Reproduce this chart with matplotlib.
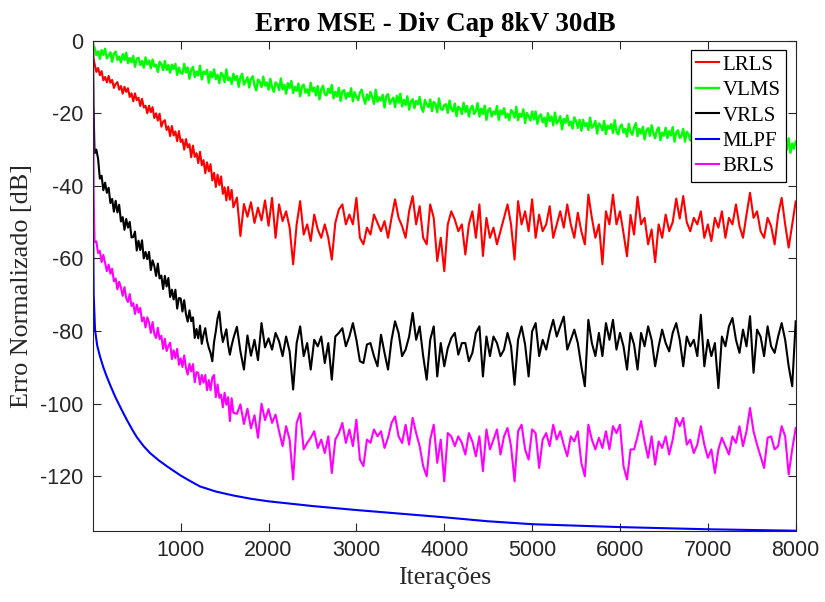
import matplotlib
matplotlib.use("Agg")
import matplotlib.pyplot as plt

plt.rcParams['font.family'] = ['Liberation Sans', 'DejaVu Sans']

# Iteration grids: fine steps during convergence, coarser afterwards
early_iters = [1, 8] + list(range(20, 1601, 20))
late_iters = list(range(1640, 8001, 40))
iters = early_iters + late_iters
vlms_iters = [1, 8] + list(range(20, 8001, 20))

# ---- LRLS normalised MSE [dB]
lrls_early = [0.0, -5.0,
              -6.4, -8.6, -7.5, -9.5, -8.4, -10.9, -10.0, -11.5, -9.7, -11.6,
              -10.8, -13.0, -11.9, -11.4, -13.5, -12.5, -14.6, -12.7, -14.1, -13.1,
              -15.5, -14.5, -16.7, -14.5, -16.4, -15.7, -18.0, -16.0, -18.4, -17.9,
              -20.0, -17.9, -19.7, -18.3, -21.3, -20.0, -22.0, -20.1, -23.7, -22.3,
              -21.9, -24.6, -23.6, -26.3, -23.5, -26.1, -25.0, -27.7, -24.9, -27.9,
              -27.2, -30.0, -27.1, -29.4, -28.5, -32.1, -28.9, -32.0, -31.0, -33.7,
              -30.6, -34.3, -32.9, -36.5, -33.5, -36.0, -34.0, -38.5, -36.4, -40.3,
              -36.9, -39.8, -37.4, -42.2, -40.4, -44.0, -40.3, -43.8, -41.1, -45.9]
lrls_late = [-43.2, -53.8, -45.0, -48.5, -44.5, -50.2, -46.0, -49.5, -44.0, -51.0,
             -43.3, -54.3, -45.1, -49.7, -47.0, -51.5, -61.6, -50.6, -44.2, -53.4, -50.6, -55.2, -47.9, -52.0, -54.3, -50.6, -54.3, -60.3, -50.2, -46.5, -45.1, -50.6, -47.9, -50.6, -43.3,
             -54.3, -56.1, -51.5, -53.4, -47.9, -50.2, -52.5, -49.7, -54.3, -48.8, -43.7, -48.8, -51.1, -54.3, -47.0, -42.8, -50.6, -45.6, -54.3, -56.1, -45.1, -48.8, -60.7, -54.3, -63.5,
             -50.6, -47.0, -49.3, -52.5, -50.6, -58.9, -50.6, -47.0, -54.3, -45.1, -59.3, -48.8, -54.3, -51.5, -56.1, -52.5, -48.8, -45.1, -50.6, -60.3, -44.2, -50.6, -47.0, -52.5, -43.7,
             -54.3, -47.9, -52.5, -50.6, -45.6, -54.3, -50.6, -47.0, -51.5, -45.1, -50.6, -54.3, -47.4, -52.5, -56.1, -42.4, -48.8, -54.3, -50.6, -61.6, -47.0, -50.6, -42.4, -50.6, -47.0,
             -53.0, -59.4, -48.0, -53.4, -43.0, -50.6, -48.8, -56.1, -52.0, -61.0, -50.6, -54.3, -47.9, -52.5, -50.0, -43.5, -49.0, -42.8, -50.0, -52.5, -48.8, -50.6, -47.0, -54.3, -50.6,
             -55.2, -48.8, -51.5, -47.0, -54.3, -48.8, -50.6, -45.1, -51.1, -54.3, -47.9, -41.9, -48.8, -47.0, -52.5, -54.3, -48.8, -51.1, -56.1, -47.9, -43.3, -50.6, -57.0, -50.6, -44.3]

# ---- VLMS normalised MSE [dB] (step 20)
vlms = [0.0, -1.8,
        -1.9, -4.0, -2.9, -5.0, -2.6, -3.9, -2.2, -4.9, -4.1, -3.2,
        -5.8, -3.6, -3.0, -5.3, -4.4, -6.0, -3.7, -5.3, -3.3, -6.2,
        -4.8, -5.9, -4.2, -7.2, -5.0, -4.7, -6.7, -5.6, -7.4, -4.6,
        -6.5, -5.5, -7.6, -5.2, -7.1, -6.6, -8.6, -5.8, -6.5, -8.1,
        -5.6, -8.0, -6.7, -8.8, -6.6, -7.8, -6.4, -9.4, -7.4, -8.9,
        -9.1, -6.4, -8.7, -7.4, -10.5, -8.0, -7.2, -10.0, -8.5, -9.6,
        -6.9, -10.7, -8.5, -9.2, -8.0, -11.6, -8.6, -10.1, -7.9, -10.6,
        -9.4, -11.7, -8.8, -9.5, -11.4, -7.9, -10.9, -10.2, -11.9, -9.1,
        -10.8, -9.7, -12.7, -10.1, -9.1, -12.1, -11.2, -10.1, -12.9, -10.5,
        -9.8, -12.3, -13.7, -10.7, -11.4, -12.8, -9.9, -12.4, -11.5, -13.5,
        -10.5, -12.8, -14.1, -11.5, -12.0, -13.6, -10.4, -13.4, -12.1, -14.6,
        -11.7, -13.0, -11.1, -14.4, -12.7, -13.8, -11.8, -15.3, -12.6, -12.1,
        -14.3, -13.4, -15.1, -11.6, -14.0, -12.9, -15.1, -12.5, -16.2, -13.4,
        -12.4, -14.7, -15.1, -13.2, -14.4, -12.2, -15.9, -14.1, -15.3, -13.0,
        -16.6, -14.0, -13.6, -16.0, -14.4, -15.4, -13.1, -16.7, -14.2, -15.4,
        -16.4, -14.3, -13.5, -15.7, -17.4, -14.8, -16.3, -14.1, -15.5, -17.4,
        -13.5, -16.8, -15.6, -16.5, -14.9, -18.4, -15.3, -14.7, -17.4, -16.4,
        -15.7, -18.3, -15.2, -17.1, -14.6, -18.1, -16.3, -17.7, -15.3, -19.0,
        -16.8, -16.1, -18.6, -16.6, -17.5, -15.5, -18.5, -19.6, -16.3, -17.6,
        -18.3, -16.2, -19.4, -16.9, -17.5, -19.7, -15.9, -18.7, -19.1, -17.7,
        -17.5, -19.9, -16.5, -18.8, -19.5, -17.3, -20.8, -18.2, -18.6, -20.2,
        -17.1, -19.6, -18.0, -20.9, -18.7, -17.9, -20.2, -19.4, -17.2, -20.9,
        -18.7, -20.2, -17.9, -21.8, -19.1, -18.6, -20.9, -19.5, -20.3, -18.0,
        -21.8, -19.2, -20.3, -18.6, -21.2, -20.1, -21.9, -19.1, -19.7, -21.2,
        -18.2, -21.9, -20.1, -21.0, -18.9, -22.7, -19.9, -20.8, -22.0, -19.5,
        -21.7, -19.5, -22.9, -20.8, -20.3, -22.5, -21.2, -23.6, -20.0, -22.1,
        -20.9, -23.3, -19.8, -22.8, -22.1, -20.8, -24.4, -21.5, -22.6, -20.6,
        -23.3, -22.3, -24.2, -21.1, -22.1, -24.0, -21.8, -24.8, -21.8, -23.5,
        -22.7, -24.6, -21.2, -24.0, -23.4, -22.1, -25.6, -22.8, -23.4, -24.7,
        -22.1, -25.7, -23.4, -24.2, -23.0, -25.4, -21.9, -24.9, -25.8, -23.7,
        -23.1, -25.3, -24.3, -26.4, -22.9, -25.0, -25.9, -23.9, -22.7, -26.3,
        -24.3, -25.6, -23.7, -27.2, -24.7, -24.1, -26.2, -23.3, -25.4, -26.9,
        -24.7, -23.9, -27.4, -25.3, -26.2, -24.0, -26.8, -24.9, -26.1, -23.8,
        -27.8, -25.3, -24.7, -26.8, -26.2, -24.3, -27.8, -25.1, -25.8, -27.5,
        -24.9, -26.8, -28.2, -24.6, -26.0, -27.5, -25.6, -27.3, -25.1, -28.1,
        -25.7, -28.1, -25.1, -27.1, -28.8, -25.8, -27.5, -26.5, -28.7, -25.0,
        -28.0, -26.9, -28.4, -25.7, -29.4, -26.6, -27.4, -28.9, -26.2, -28.3,
        -25.8, -29.8, -27.2, -28.1, -26.6, -29.4, -27.6, -26.9, -29.9, -27.4,
        -28.3, -26.4, -29.5, -28.7, -26.2, -29.4, -27.6, -30.7, -28.1, -27.1,
        -29.3, -30.4, -27.6, -28.5, -30.0, -26.9, -30.9, -28.3, -29.8, -27.8]

# ---- VRLS normalised MSE [dB]
vrls_early = [0.0, -18.0,
              -31.0, -30.0, -32.5, -38.0, -37.2, -41.2, -39.1, -41.9, -40.5, -44.7,
              -43.6, -47.1, -44.1, -47.3, -45.2, -49.8, -48.6, -52.1, -49.1, -51.5,
              -49.9, -54.2, -54.1, -52.6, -57.8, -55.1, -57.7, -55.0, -60.0, -58.2,
              -60.2, -58.2, -63.2, -60.5, -62.1, -64.8, -61.4, -65.5, -64.7, -68.4,
              -64.8, -67.7, -65.4, -70.6, -68.6, -71.3, -68.6, -73.8, -70.9, -71.0,
              -74.6, -71.5, -75.3, -77.4, -74.3, -77.3, -76.2, -81.9, -79.4, -82.0,
              -78.5, -83.5, -81.0, -79.2, -82.6, -84.6, -86.0, -88.3, -83.0, -80.0,
              -76.5, -74.6, -79.8, -83.0, -81.2, -79.5, -83.8, -86.5, -84.0, -82.0]
vrls_late = [-78.8, -85.6, -90.6, -81.2, -86.8, -82.4, -88.0, -77.8, -84.5, -82.0,
             -85.1, -80.5, -82.8, -86.9, -81.5, -85.6, -96.1, -83.3, -78.7, -86.9, -83.3, -90.6, -82.4, -84.2, -81.5, -88.8, -83.3, -93.4, -81.5, -80.5, -79.2, -84.2, -81.5, -77.8, -82.4,
             -88.3, -88.8, -83.7, -83.3, -86.9, -89.7, -81.0, -86.0, -90.6, -82.4, -77.3, -80.5, -86.9, -85.1, -81.5, -75.0, -82.4, -78.7, -86.9, -93.4, -82.4, -78.7, -92.5, -83.3, -89.7,
             -84.7, -81.9, -80.5, -86.5, -83.3, -83.3, -88.3, -86.0, -80.5, -78.7, -92.5, -81.5, -86.9, -81.5, -83.3, -86.9, -85.1, -80.5, -84.2, -94.8, -82.4, -78.7, -83.7, -92.5, -80.1,
             -77.8, -86.9, -82.4, -85.1, -80.5, -76.9, -81.5, -78.7, -76.0, -85.1, -82.4, -79.6, -83.3, -89.7, -95.2, -76.9, -83.3, -86.9, -80.5, -86.9, -77.8, -82.4, -76.9, -85.1, -80.5,
             -84.2, -90.6, -80.5, -83.7, -90.6, -80.5, -84.2, -78.7, -82.4, -89.7, -84.2, -79.6, -83.3, -85.6, -80.5, -77.8, -82.4, -89.7, -81.5, -84.2, -82.4, -86.9, -75.5, -89.7, -82.4,
             -86.9, -83.3, -95.7, -81.5, -84.2, -78.7, -76.4, -82.4, -86.0, -79.6, -84.2, -75.9, -91.5, -79.6, -81.5, -86.9, -78.7, -84.2, -86.0, -81.5, -77.8, -82.4, -89.7, -95.2, -77.3]

# ---- BRLS normalised MSE [dB]
brls_early = [0.0, -42.0,
              -55.5, -55.3, -58.5, -57.9, -61.0, -59.0, -61.3, -63.5, -61.7, -64.2,
              -62.8, -66.3, -65.5, -68.5, -66.4, -68.0, -70.3, -67.9, -70.9, -72.0,
              -69.8, -73.1, -72.3, -75.3, -72.7, -74.9, -73.6, -77.3, -76.2, -79.0,
              -76.2, -77.6, -80.5, -77.5, -80.8, -81.9, -79.1, -82.2, -81.3, -84.9,
              -82.1, -85.5, -84.1, -83.2, -87.7, -85.3, -87.5, -84.9, -89.3, -87.5,
              -89.9, -86.7, -90.1, -92.0, -89.0, -91.1, -89.1, -94.1, -91.3, -91.5,
              -94.7, -92.1, -94.2, -92.1, -96.3, -93.5, -96.3, -92.8, -92.1, -98.2,
              -94.7, -98.4, -97.5, -101.0, -97.0, -100.3, -98.2, -104.8, -98.5, -102.5]
brls_late = [-102.8, -100.2, -105.6, -101.4, -106.8, -103.2, -109.4, -100.0, -104.5, -101.5,
             -105.3, -103.0, -107.6, -111.7, -106.2, -109.9, -120.9, -105.3, -102.6, -112.6, -110.8, -109.4, -107.6, -112.2, -109.9, -113.6, -109.0, -119.1, -109.9, -108.1, -105.3, -110.8, -107.1, -111.7, -104.4,
             -115.4, -117.2, -109.9, -110.8, -107.1, -109.0, -107.6, -112.2, -109.4, -105.3, -103.5, -109.0, -110.8, -105.8, -111.3, -103.9, -108.1, -111.7, -117.2, -120.0, -109.9, -105.8, -116.3, -109.9, -121.4,
             -108.1, -109.0, -111.7, -109.0, -110.8, -114.0, -108.1, -110.4, -114.5, -109.0, -118.6, -107.1, -112.6, -109.9, -107.1, -114.0, -109.0, -106.7, -111.7, -121.4, -107.6, -105.8, -112.6, -115.4, -107.1,
             -108.1, -117.7, -109.9, -108.1, -111.7, -105.8, -109.9, -107.6, -111.3, -114.5, -109.0, -110.4, -107.6, -116.3, -120.0, -105.8, -109.9, -112.6, -109.4, -112.2, -107.6, -112.6, -106.2, -108.1, -105.8,
             -117.2, -120.9, -112.6, -112.6, -109.0, -104.8, -110.4, -114.9, -109.0, -116.8, -110.4, -112.2, -109.0, -114.0, -109.9, -103.9, -106.2, -103.9, -111.3, -109.9, -113.6, -111.3, -106.2, -111.3, -114.9,
             -112.6, -119.1, -112.6, -109.4, -111.7, -114.0, -109.0, -110.8, -106.2, -111.7, -107.6, -101.2, -107.6, -111.3, -114.5, -117.7, -109.4, -109.0, -112.6, -111.7, -106.2, -109.0, -119.5, -112.6, -106.7]

# ---- MLPF converges smoothly, stored on its own grid
mlpf_iters = [1, 5, 10, 25, 50, 82, 120, 158, 200, 253, 320, 386, 450, 500, 575, 651, 750, 841, 920,
              1000, 1100, 1220, 1400, 1600, 1800, 2000, 2500, 3000, 3500, 4000, 4500, 5000, 5500,
              6000, 6500, 7000, 7500, 8000]
mlpf = [0.0, -55.0, -70.0, -79.6, -84.0, -87.0, -90.0, -92.5, -95.0, -98.0, -101.3, -104.4, -107.2,
        -109.2, -111.6, -113.6, -115.6, -117.2, -118.5, -119.8, -121.2, -122.8, -124.2, -125.3, -126.2,
        -126.9, -128.2, -129.3, -130.3, -131.3, -132.4, -133.2, -133.6, -134.0, -134.3, -134.6, -134.8, -135.0]

lrls = lrls_early + lrls_late
vrls = vrls_early + vrls_late
brls = brls_early + brls_late

x_ticks = [1000, 2000, 3000, 4000, 5000, 6000, 7000, 8000]
y_ticks = [-120, -100, -80, -60, -40, -20, 0]

axis_grey = '#262626'
serif = ['Liberation Serif', 'DejaVu Serif']

fig = plt.figure(figsize=(8.25, 6.02), dpi=100)
ax = fig.add_axes([0.1125, 0.1184, 0.852, 0.814])

lw = 1.5
ax.plot(iters, lrls, color=(1, 0, 0), lw=lw, label='LRLS')
ax.plot(vlms_iters, vlms, color=(0, 1, 0), lw=1.7, label='VLMS')
ax.plot(iters, vrls, color=(0, 0, 0), lw=lw, label='VRLS')
ax.plot(mlpf_iters, mlpf, color=(0, 0, 1), lw=lw, label='MLPF')
ax.plot(iters, brls, color=(1, 0, 1), lw=lw, label='BRLS')

ax.set_xlim(0, 8000)
ax.set_ylim(-135, 0)
ax.set_xticks(x_ticks)
ax.set_yticks(y_ticks)
ax.set_xticklabels([str(v) for v in x_ticks])
ax.set_yticklabels([str(v) for v in y_ticks])
ax.tick_params(direction='in', length=6, width=0.8, top=True, right=True,
               labelsize=15.5, colors=axis_grey, pad=7)
for sp in ax.spines.values():
    sp.set_linewidth(0.8)
    sp.set_color(axis_grey)

title = ax.set_title('Erro MSE - Div Cap 8kV 30dB', fontfamily=serif, fontweight='bold',
                     fontsize=19.5, pad=7, color='black')
title.set_x(0.487)
ax.set_xlabel('Iterações', fontfamily=serif, fontsize=18.5, color=axis_grey, labelpad=4)
ax.set_ylabel('Erro Normalizado [dB]', fontfamily=serif, fontsize=18.8, color=axis_grey, labelpad=5)

leg = ax.legend(loc='upper right', bbox_to_anchor=(786 / 825, 1 - 50 / 602),
                bbox_transform=fig.transFigure, borderaxespad=0,
                prop={'family': serif, 'size': 15}, fancybox=False, framealpha=1,
                edgecolor='black', borderpad=0.25, labelspacing=0.28,
                handlelength=1.1, handletextpad=0.2)
leg.get_frame().set_linewidth(0.9)

fig.savefig('out.png', dpi=100)
